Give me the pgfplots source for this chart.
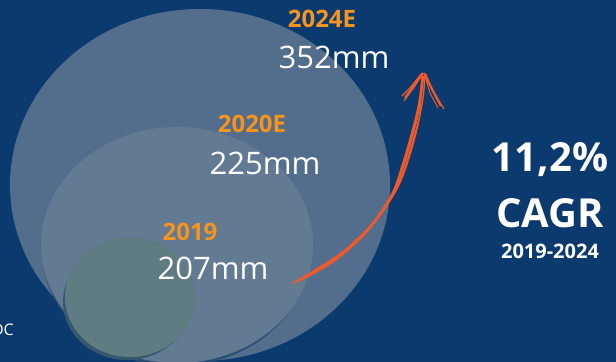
\documentclass[border=0pt]{standalone}
\usepackage{pgfplots}
\pgfplotsset{compat=1.18}
\usepackage{fontspec}
\setmainfont{Open Sans}
\definecolor{bg}{HTML}{0B3A6E}
\definecolor{bigc}{HTML}{536D8C}
\definecolor{midc}{HTML}{637A93}
\definecolor{smlc}{HTML}{5F7C82}
\definecolor{shad}{HTML}{34596F}
\definecolor{shad2}{HTML}{2A4F74}
\definecolor{orng}{HTML}{F7941D}
\definecolor{arr}{HTML}{F05A2A}
\begin{document}
\begin{tikzpicture}
\clip (0,0) rectangle (616bp,362bp);
\fill[bg] (0,0) rectangle (616bp,362bp);
\begin{axis}[at={(0,0)},anchor=south west,scale only axis,
  width=616bp,height=362bp,xmin=0,xmax=616,ymin=0,ymax=362,
  y dir=reverse,hide axis,clip=false]
% bubbles
\fill[bigc] (axis cs:200,185) ellipse [x radius=190bp, y radius=176bp];
\fill[shad2] (axis cs:176,250) ellipse [x radius=134bp, y radius=116bp];
\fill[midc] (axis cs:177,245) ellipse [x radius=136bp, y radius=118bp];
\fill[shad] (axis cs:127,302) ellipse [x radius=64bp, y radius=58bp];
\fill[smlc] (axis cs:130,297) ellipse [x radius=65bp, y radius=60bp];
% arrow (sketchy strokes)
\addplot[arr,smooth,line width=2.6bp,no marks] coordinates {(298,281) (337,257) (370,227) (393,193) (405,160) (415,125) (420,100) (423,76)};
\addplot[arr,smooth,line width=1.4bp,no marks] coordinates {(292,284) (340,254) (373,224) (396,190) (408,158) (418,123) (423,98) (425,74)};
\addplot[arr,smooth,line width=1.2bp,no marks] coordinates {(300,279) (343,252) (375,222) (398,187) (410,155) (419,120) (421,95) (422,75)};
\addplot[arr,smooth,line width=1.0bp,no marks] coordinates {(305,278) (335,261) (368,231) (391,196) (403,162) (413,127) (419,102) (422,78)};
\addplot[arr,line width=2.2bp,no marks] coordinates {(405,98) (413,87) (423,73)};
\addplot[arr,line width=1.2bp,no marks] coordinates {(402,96) (410,88) (422,73)};
\addplot[arr,line width=1.0bp,no marks] coordinates {(404,101) (415,86) (421,76)};
\addplot[arr,line width=2.2bp,no marks] coordinates {(441,106) (433,91) (424,73)};
\addplot[arr,line width=1.2bp,no marks] coordinates {(444,109) (431,88) (426,74)};
\addplot[arr,line width=1.0bp,no marks] coordinates {(438,108) (430,93) (425,76)};
% labels
\node[text=orng,font=\fontsize{24bp}{28bp}\selectfont\bfseries] at (axis cs:322,19) {2024E};
\node[text=white,font=\fontsize{31bp}{36bp}\selectfont] at (axis cs:334,57) {352mm};
\node[text=orng,font=\fontsize{24bp}{28bp}\selectfont\bfseries] at (axis cs:252,124) {2020E};
\node[text=white,font=\fontsize{31bp}{36bp}\selectfont] at (axis cs:265,163) {225mm};
\node[text=orng,font=\fontsize{24bp}{28bp}\selectfont\bfseries] at (axis cs:190,232) {2019};
\node[text=white,font=\fontsize{31bp}{36bp}\selectfont] at (axis cs:213,268) {207mm};
\node[text=white,font=\fontsize{40bp}{46bp}\selectfont\bfseries] at (axis cs:550,160) {11,2\%};
\node[text=white,font=\fontsize{40bp}{46bp}\selectfont\bfseries] at (axis cs:550,213) {CAGR};
\node[text=white,font=\fontsize{20bp}{24bp}\selectfont\bfseries] at (axis cs:550,251) {2019-2024};
\node[text=white,font=\fontsize{16bp}{20bp}\selectfont,anchor=east,inner sep=0pt] at (axis cs:14,330) {IDC};
\end{axis}
\end{tikzpicture}
\end{document}
